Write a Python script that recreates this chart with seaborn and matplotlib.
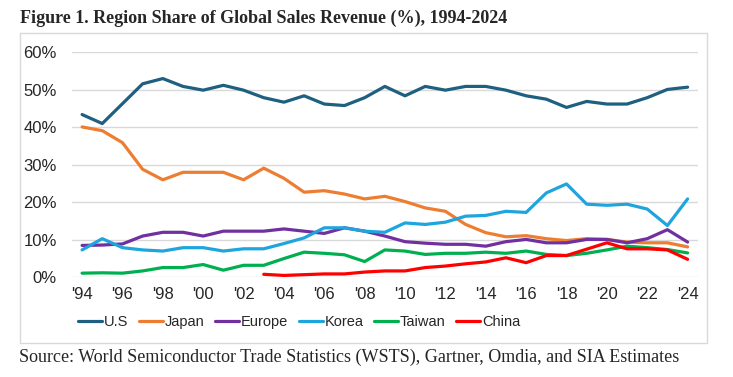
import numpy as np
import pandas as pd
import matplotlib
matplotlib.use("Agg")
import matplotlib.pyplot as plt
import seaborn as sns
from matplotlib.patches import Rectangle
from matplotlib.lines import Line2D

years = list(range(1994, 2025))
us = [43.4, 41.0, 46.3, 51.6, 53.0, 50.9, 49.9, 51.2, 49.9, 47.9, 46.7, 48.4, 46.2, 45.8, 47.9, 50.9,
      48.4, 50.9, 49.9, 50.9, 50.9, 49.9, 48.4, 47.5, 45.3, 46.9, 46.2, 46.2, 47.9, 50.1, 50.7]
japan = [40.1, 39.1, 35.9, 28.8, 26.0, 28.0, 28.0, 28.0, 26.0, 29.1, 26.4, 22.7, 23.1, 22.2, 20.9, 21.6,
         20.2, 18.5, 17.6, 14.1, 11.9, 10.8, 11.1, 10.3, 9.8, 10.3, 10.1, 9.4, 9.2, 9.2, 8.1]
europe = [8.5, 8.6, 8.9, 11.0, 12.0, 12.0, 11.0, 12.3, 12.3, 12.3, 12.9, 12.3, 11.7, 13.2, 12.3, 11.0,
          9.5, 9.1, 8.8, 8.8, 8.3, 9.5, 10.1, 9.2, 9.2, 10.1, 10.1, 9.2, 10.3, 12.7, 9.4]
korea = [7.3, 10.3, 7.9, 7.3, 7.0, 7.9, 7.9, 7.0, 7.6, 7.6, 9.0, 10.5, 13.2, 13.2, 12.3, 12.0,
         14.5, 14.1, 14.7, 16.3, 16.5, 17.6, 17.3, 22.5, 24.9, 19.5, 19.2, 19.5, 18.2, 13.8, 20.9]
taiwan = [1.1, 1.2, 1.1, 1.7, 2.6, 2.6, 3.4, 1.9, 3.2, 3.2, 5.0, 6.7, 6.4, 6.0, 4.2, 7.3,
          7.0, 6.1, 6.4, 6.4, 6.7, 6.4, 7.0, 6.1, 5.8, 6.4, 7.3, 8.3, 7.9, 7.4, 6.5]
china_years = list(range(2003, 2025))
china = [0.8, 0.5, 0.7, 0.9, 0.9, 1.4, 1.7, 1.7, 2.6, 3.0, 3.6, 4.1, 5.2, 3.9, 5.8, 5.8,
         7.5, 9.2, 7.6, 7.6, 7.3, 4.8]

regions = ["U.S", "Japan", "Europe", "Korea", "Taiwan", "China"]
colors = ["#1F5F7F", "#ED7D31", "#7030A0", "#1FA5DE", "#00B050", "#FF0000"]
tick_years = list(range(1994, 2025, 2))
tick_labels = ["'" + str(y)[2:] for y in tick_years]
ytick_vals = [0, 10, 20, 30, 40, 50, 60]
ytick_labels = [f"{v}%" for v in ytick_vals]

frames = []
for name, yr, vals in [("U.S", years, us), ("Japan", years, japan), ("Europe", years, europe),
                       ("Korea", years, korea), ("Taiwan", years, taiwan), ("China", china_years, china)]:
    frames.append(pd.DataFrame({"Year": yr, "Share": vals, "Region": name}))
df = pd.concat(frames, ignore_index=True)

sns.set_style("white")
plt.rcParams["font.family"] = ["Liberation Sans", "DejaVu Sans"]

W, H = 733, 377
fig = plt.figure(figsize=(W / 100, H / 100), dpi=100)
ax = fig.add_axes([72 / W, 1 - 277.3 / H, (697.7 - 72) / W, (277.3 - 52.3) / H])

sns.lineplot(data=df, x="Year", y="Share", hue="Region", hue_order=regions,
             palette=colors, linewidth=2.3, ax=ax, legend=False, zorder=3)

ax.set_xlim(1993.5, 2024.5)
ax.set_ylim(0, 60)
ax.set_xticks(tick_years)
ax.set_xticklabels(tick_labels, fontsize=12)
ax.set_yticks(ytick_vals)
ax.set_yticklabels(ytick_labels, fontsize=12)
ax.tick_params(axis="x", length=0, pad=7)
ax.tick_params(axis="y", length=0, pad=11)
ax.set_xlabel("")
ax.set_ylabel("")
ax.grid(axis="y", color="#D9D9D9", linewidth=1.0)
ax.grid(axis="x", visible=False)
for s in ax.spines.values():
    s.set_visible(False)
ax.set_facecolor("none")

# chart border
fig.patches.append(Rectangle((19.5 / W, 1 - 343 / H), (707 - 19.5) / W, (343 - 33) / H,
                             transform=fig.transFigure, fill=False, edgecolor="#D9D9D9",
                             linewidth=1.0))

handles = [Line2D([0], [0], color=c, linewidth=2.3) for c in colors]
fig.legend(handles, regions, loc="center left", bbox_to_anchor=(78 / W, 1 - 322 / H),
           ncol=6, frameon=False, fontsize=10.5, handlelength=1.65, handletextpad=0.1,
           columnspacing=0.75, borderaxespad=0, borderpad=0)

fig.text(20 / W, 1 - 18 / H, "Figure 1. Region Share of Global Sales Revenue (%), 1994-2024",
         fontsize=13, fontweight="bold", family=["Liberation Serif", "DejaVu Serif"],
         va="center", ha="left")
fig.text(19 / W, 1 - 357 / H,
         "Source: World Semiconductor Trade Statistics (WSTS), Gartner, Omdia, and SIA Estimates",
         fontsize=13, family=["Liberation Serif", "DejaVu Serif"], va="center", ha="left")

fig.savefig("out.png", dpi=100)
